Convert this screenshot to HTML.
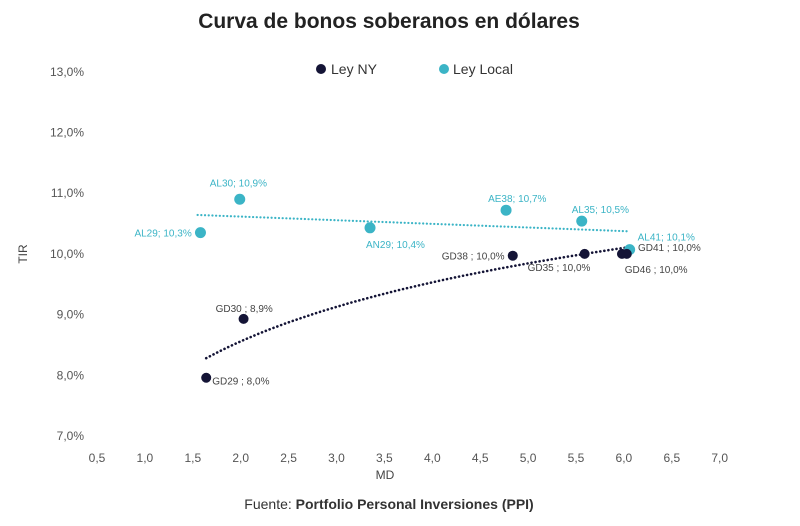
<!DOCTYPE html>
<html><head><meta charset="utf-8"><style>
body{margin:0;background:#fff;width:800px;height:521px;overflow:hidden;font-family:"Liberation Sans",sans-serif}
</style></head><body>
<svg id="chart" width="800" height="521" xmlns="http://www.w3.org/2000/svg" font-family="Liberation Sans, sans-serif">
<text x="389" y="28" text-anchor="middle" font-size="21" font-weight="bold" fill="#222">Curva de bonos soberanos en dólares</text>
<g>
<circle cx="321" cy="69" r="5" fill="#141436"/>
<text x="331" y="74" font-size="14" fill="#333">Ley NY</text>
<circle cx="444" cy="69" r="5" fill="#3bb4c6"/>
<text x="453" y="74" font-size="14" fill="#333">Ley Local</text>
</g>
<text transform="translate(27,254) rotate(-90)" text-anchor="middle" font-size="12" fill="#444">TIR</text>
<text x="385" y="479" text-anchor="middle" font-size="12" fill="#444">MD</text>
<text x="389" y="509" text-anchor="middle" font-size="14" fill="#333">Fuente: <tspan font-weight="bold">Portfolio Personal Inversiones (PPI)</tspan></text>
<g id="axes"></g><g id="trends"></g><g id="marks"></g>
</svg>
<script>
const xTicks=[0.5,1,1.5,2,2.5,3,3.5,4,4.5,5,5.5,6,6.5,7];
const yTicks=[7,8,9,10,11,12,13];
const nyNames=["GD29","GD30","GD38","GD35","GD41","GD46"];
const nyMD=[1.64,2.03,4.84,5.59,5.98,6.03];
const nyTIR=[7.96,8.93,9.97,10.0,10.0,10.0];
const nyLabels=["GD29 ; 8,0%","GD30 ; 8,9%","GD38 ; 10,0%","GD35 ; 10,0%","GD41 ; 10,0%","GD46 ; 10,0%"];
const locNames=["AL29","AL30","AN29","AE38","AL35","AL41"];
const locMD=[1.58,1.99,3.35,4.77,5.56,6.06];
const locTIR=[10.35,10.9,10.43,10.72,10.54,10.07];
const locLabels=["AL29; 10,3%","AL30; 10,9%","AN29; 10,4%","AE38; 10,7%","AL35; 10,5%","AL41; 10,1%"];
const NS="http://www.w3.org/2000/svg";
const X=v=>97+(v-0.5)*95.8, Y=v=>436-(v-7)*60.7;
function mk(tag,attrs,parent,txt){const e=document.createElementNS(NS,tag);for(const k in attrs)e.setAttribute(k,attrs[k]);if(txt!==undefined)e.textContent=txt;document.getElementById(parent).appendChild(e);return e;}
const fmt=v=>v.toFixed(1).replace('.',',');
xTicks.forEach(t=>{const e=mk('text',{x:X(t),y:462,'text-anchor':'middle','font-size':12,fill:'#555'},'axes',fmt(t));

});
yTicks.forEach(t=>{const e=mk('text',{x:84,y:Y(t)+4,'text-anchor':'end','font-size':12,fill:'#555'},'axes',fmt(t)+'%');

});
function lin(xs,ys){const n=xs.length,mx=xs.reduce((a,b)=>a+b)/n,my=ys.reduce((a,b)=>a+b)/n;let sxy=0,sxx=0;xs.forEach((x,i)=>{sxy+=(x-mx)*(ys[i]-my);sxx+=(x-mx)**2});const b=sxy/sxx;return [my-b*mx,b];}
const [la,lb]=lin(locMD,locTIR);
const x0=Math.min(...locMD)-0.03,x1=Math.max(...locMD);
let e=mk('line',{x1:X(x0),y1:Y(la+lb*x0),x2:X(x1),y2:Y(la+lb*x1),stroke:'#3bb4c6','stroke-width':2.2,'stroke-dasharray':'0.1 3.6','stroke-linecap':'round'},'trends');


const [na,nb]=lin(nyMD.map(Math.log),nyTIR);
let d='';const s0=Math.min(...nyMD),s1=Math.max(...nyMD)+0.05;
for(let i=0;i<=60;i++){const v=s0+(s1-s0)*i/60;d+=(i?'L':'M')+X(v).toFixed(1)+','+Y(na+nb*Math.log(v)).toFixed(1);}
e=mk('path',{d:d,fill:'none',stroke:'#141436','stroke-width':2.6,'stroke-dasharray':'0.1 4','stroke-linecap':'round'},'trends');


const locOff=[[-66,0],[-30,-17],[-4,16],[-18,-12],[-10,-12],[8,-13]];
locMD.forEach((v,i)=>{const c=mk('circle',{cx:X(v),cy:Y(locTIR[i]),r:5.5,fill:'#3bb4c6'},'marks');


const t=mk('text',{x:X(v)+locOff[i][0],y:Y(locTIR[i])+locOff[i][1]+4,'font-size':10,fill:'#3bb4c6'},'marks',locLabels[i]);

});
const nyOff=[[6,3],[-28,-11],[-71,0],[-57,13],[16,-7],[-2,15]];
nyMD.forEach((v,i)=>{const c=mk('circle',{cx:X(v),cy:Y(nyTIR[i]),r:5,fill:'#141436'},'marks');


const t=mk('text',{x:X(v)+nyOff[i][0],y:Y(nyTIR[i])+nyOff[i][1]+4,'font-size':10,fill:'#444'},'marks',nyLabels[i]);

});
</script>
</body></html>
